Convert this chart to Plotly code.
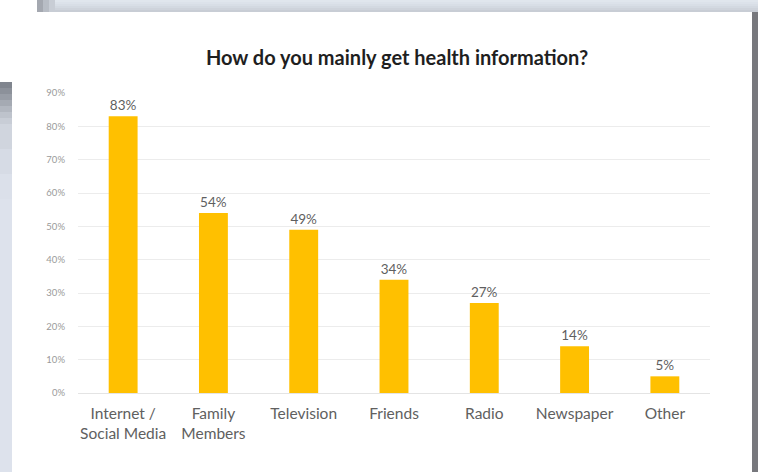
import plotly.graph_objects as go

# Survey results
categories = ["Internet /<br>Social Media", "Family<br>Members", "Television",
              "Friends", "Radio", "Newspaper", "Other"]
shares = [83, 54, 49, 34, 27, 14, 5]
y_ticks = [0, 10, 20, 30, 40, 50, 60, 70, 80, 90]
y_tick_labels = [f"{v}%" for v in y_ticks]

W, H = 758, 472
L, R, T, B = 78, 48, 93, 79  # plot-area margins in px
PW, PH = W - L - R, H - T - B
FONT = "Lato, Open Sans, sans-serif"


def px(x):
    return (x - L) / PW


def py(y):
    return (H - B - y) / PH


def rect(x0, y0, x1, y1, color):
    return dict(type="rect", xref="paper", yref="paper", layer="below",
                x0=px(x0), x1=px(x1), y0=py(y1), y1=py(y0),
                fillcolor=color, line=dict(width=0))


shapes = []
# page backdrop framing the card
shapes.append(rect(0, 0, W, H, "#ffffff"))
# top strip, shaded downward
top_cols = ["#e0e6ed", "#dce2ea", "#d8dee6", "#d3d9e1", "#ced3db", "#c8cdd5"]
for i, c in enumerate(top_cols):
    shapes.append(rect(37, i * 2, W, i * 2 + 2, c))
# darker fade at the start of the top strip
for i, c in enumerate(["#a4a8b0", "#b8bdc5", "#c8cdd5"]):
    shapes.append(rect(37 + i * 6, 0, 37 + (i + 1) * 6, 12, c))
# left strip, dark at the top fading to pale blue-grey
left_cols = ["#80858e", "#8c919a", "#989da6", "#a5aab3", "#b2b7c0", "#bec3cc",
             "#c8cdd6", "#d0d5de", "#d6dbe5", "#dbe0ea"]
y0 = 82
for i, c in enumerate(left_cols):
    y1 = y0 + (6 if i < 7 else 25)
    shapes.append(rect(0, y0, 12, y1, c))
    y0 = y1
shapes.append(rect(0, y0, 12, H, "#dde2ec"))
# right strip
shapes.append(rect(752, 12, W, H, "#77787d"))
# white card
shapes.append(rect(12, 12, 752, H, "#ffffff"))

fig = go.Figure(go.Bar(
    x=categories, y=shares,
    marker=dict(color="#FFC000", line=dict(width=0)),
    text=[f"{v}%" for v in shares], textposition="outside",
    textfont=dict(family=FONT, size=13.5, color="#5f5f5f"),
    cliponaxis=False,
))

fig.update_layout(
    width=W, height=H,
    margin=dict(l=L, r=R, t=T, b=B),
    paper_bgcolor="#ffffff", plot_bgcolor="rgba(0,0,0,0)",
    bargap=0.68,
    shapes=shapes,
    showlegend=False,
    title=dict(text="<b>How do you mainly get health information?</b>",
               x=397 / W, xanchor="center", y=1 - 58 / H, yanchor="middle",
               font=dict(family=FONT, size=20, color="#1f1f1f")),
    xaxis=dict(showgrid=False, showline=False, ticks="", ticklabelstandoff=9,
               tickfont=dict(family=FONT, size=15.5, color="#606060")),
    yaxis=dict(range=[0, 90], tickvals=y_ticks, ticktext=y_tick_labels,
               showgrid=True, gridcolor="#ececec", gridwidth=1,
               zeroline=True, zerolinecolor="#e4e4e4", zerolinewidth=1,
               showline=False, ticks="", ticklabelstandoff=12,
               tickfont=dict(family=FONT, size=9.5, color="#9a9a9a")),
)

fig.write_html("out.html")
